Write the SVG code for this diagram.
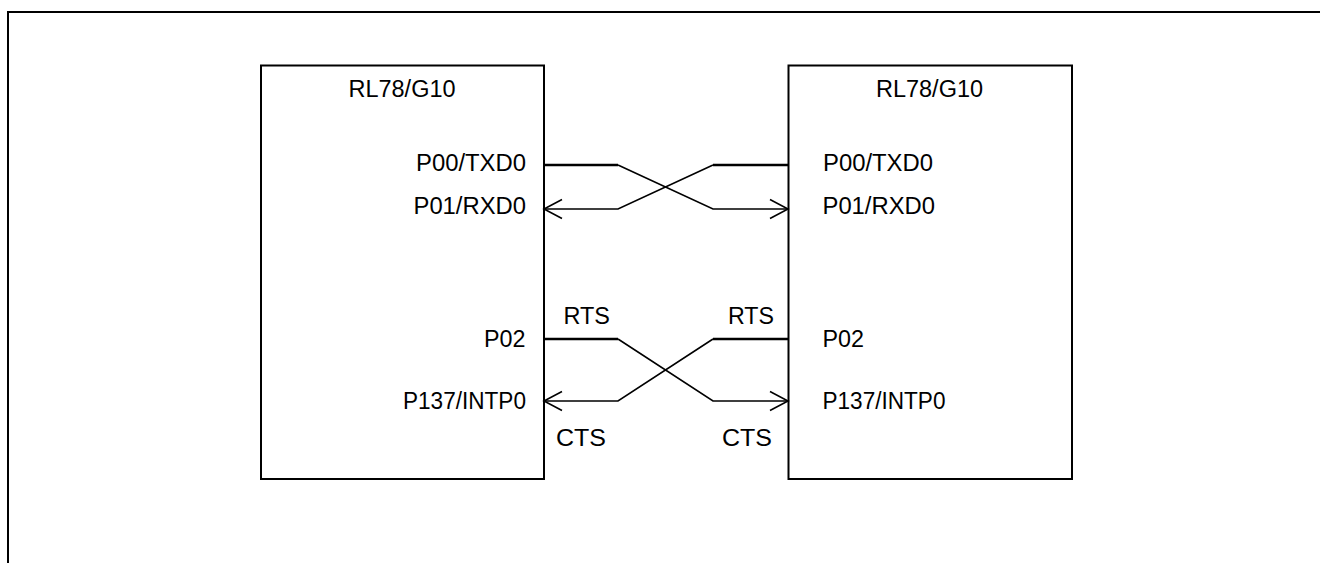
<svg xmlns="http://www.w3.org/2000/svg" width="1320" height="563" viewBox="0 0 1320 563">
<defs>
<style>
.box{fill:#fff;stroke:#000;stroke-width:2}
.t{font-family:"Liberation Sans",Arial,sans-serif;font-size:23px;fill:#000}
.e{text-anchor:end}
.w{fill:none;stroke:#000;stroke-width:1.6}
.wt{fill:none;stroke:#000;stroke-width:2.6}
</style>
<marker id="arr" markerUnits="userSpaceOnUse" markerWidth="24" markerHeight="24" refX="0" refY="0" orient="auto" overflow="visible">
<path d="M-18,-9.5 L0,0 L-18,9.5" fill="none" stroke="#000" stroke-width="1.6"/>
</marker>
</defs>
<rect width="1320" height="563" fill="#fff"/>
<g id="frame">
<path d="M8,563 V12 H1320" fill="none" stroke="#000" stroke-width="2"/>
</g>
<g id="mcu-left">
<rect class="box" x="261" y="65.5" width="283" height="413.5"/>
<text class="t" x="348.5" y="96.5" textLength="107" lengthAdjust="spacingAndGlyphs">RL78/G10</text>
<text class="t" x="416" y="171" textLength="110" lengthAdjust="spacingAndGlyphs">P00/TXD0</text>
<text class="t" x="413.5" y="214" textLength="112.5" lengthAdjust="spacingAndGlyphs">P01/RXD0</text>
<text class="t" x="484" y="346.5" textLength="41.5" lengthAdjust="spacingAndGlyphs">P02</text>
<text class="t" x="403" y="409" textLength="123" lengthAdjust="spacingAndGlyphs">P137/INTP0</text>
</g>
<g id="mcu-right">
<rect class="box" x="788.5" y="65.5" width="283.5" height="413.5"/>
<text class="t" x="876" y="96.5" textLength="107" lengthAdjust="spacingAndGlyphs">RL78/G10</text>
<text class="t" x="823" y="171" textLength="110" lengthAdjust="spacingAndGlyphs">P00/TXD0</text>
<text class="t" x="822.5" y="214" textLength="112.5" lengthAdjust="spacingAndGlyphs">P01/RXD0</text>
<text class="t" x="822.5" y="346.5" textLength="41.5" lengthAdjust="spacingAndGlyphs">P02</text>
<text class="t" x="822.5" y="409" textLength="123" lengthAdjust="spacingAndGlyphs">P137/INTP0</text>
</g>
<g id="connectors">
<path class="wt" d="M544,165 H618"/>
<path class="w" d="M618,165 L713,209 H788" marker-end="url(#arr)"/>
<path class="wt" d="M788,165 H713"/>
<path class="w" d="M713,165 L618,209 H544" marker-end="url(#arr)"/>
<path class="wt" d="M544,339 H618"/>
<path class="w" d="M618,339 L713,401 H788" marker-end="url(#arr)"/>
<path class="wt" d="M788,339 H713"/>
<path class="w" d="M713,339 L618,401 H544" marker-end="url(#arr)"/>
</g>
<g id="labels">
<text class="t" x="563.5" y="323.5" textLength="46.5" lengthAdjust="spacingAndGlyphs">RTS</text>
<text class="t" x="728" y="323.5" textLength="46" lengthAdjust="spacingAndGlyphs">RTS</text>
<text class="t" x="556" y="446" textLength="50" lengthAdjust="spacingAndGlyphs">CTS</text>
<text class="t" x="722" y="446" textLength="50" lengthAdjust="spacingAndGlyphs">CTS</text>
</g>
</svg>
